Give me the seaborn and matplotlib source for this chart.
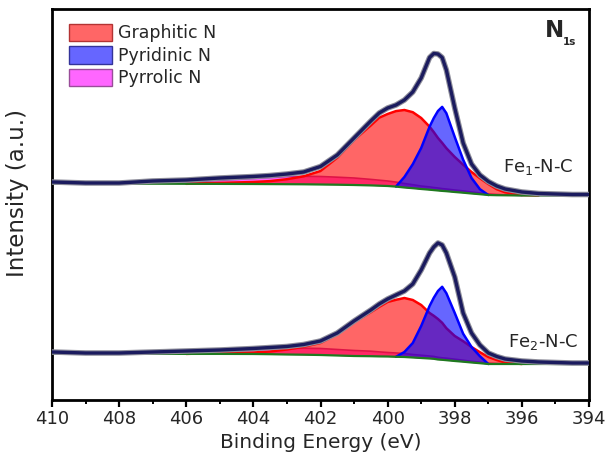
import numpy as np
import pandas as pd
import matplotlib
matplotlib.use("Agg")
import matplotlib.pyplot as plt
import seaborn as sns
from matplotlib.patches import Patch
from matplotlib.ticker import MultipleLocator

# ---------------- data ----------------
energy = [410, 409, 408, 407, 406, 405, 404, 403.5, 403, 402.5, 402, 401.5, 401,
          400.5, 400.25, 400, 399.75, 399.5, 399.25, 399, 398.75, 398.625, 398.5,
          398.375, 398.25, 398, 397.75, 397.5, 397.25, 397, 396.75, 396.5, 396,
          395.5, 395, 394.5, 394]

# Fe1-N-C (upper spectrum, absolute plotted intensity)
fe1_baseline = [216.5, 216.5, 216.4, 216.3, 216.2, 216.1, 216, 215.9, 215.8, 215.7, 215.5,
                215.3, 215, 214.6, 214.3, 214, 213.4, 212.5, 211.8, 211, 210.3, 209.9,
                209.5, 209.1, 208.8, 208, 207.3, 206.5, 205.8, 205, 204.8, 204.7, 204.5,
                204.5, 204.5, 204.5, 204.5]
fe1_envelope = [218, 217, 217, 219, 220, 222, 223.5, 224.5, 226, 228, 233.5, 245, 262,
                279, 287, 292, 295, 300, 308, 322, 342.5, 346.5, 346, 342.5, 330, 292,
                257, 236, 225, 218.5, 214, 211, 208, 206.5, 206, 205.5, 205.5]
# component heights above the baseline
fe1_graphitic = [0, 0, 0, 0, 0, 1, 2, 3, 5, 8, 13.5, 27, 45, 60, 68, 72, 75.5, 77.5, 76,
                 71, 63, 58, 52.5, 48, 43, 35, 28, 21.5, 16, 11, 6, 3, 0.5, 0, 0, 0, 0]
fe1_pyridinic = [0, 0, 0, 0, 0, 0, 0, 0, 0, 0, 0, 0, 0, 0, 0, 0, 0, 10.5, 24, 41, 63, 72,
                 79.5, 84, 78, 55, 33, 15.5, 5, 0, 0, 0, 0, 0, 0, 0, 0]
fe1_pyrrolic = [0, 0, 0, 0.5, 1.5, 3.5, 5.5, 6.5, 7.5, 8, 8, 7.5, 7, 6, 5.5, 5, 4.5, 4,
                3.5, 3, 2.8, 2.6, 2.5, 2.3, 2.2, 2, 1.8, 1.5, 1.2, 1, 0.7, 0.5, 0, 0, 0, 0, 0]

# Fe2-N-C (lower spectrum)
fe2_baseline = [46.5, 46.4, 46.3, 46.2, 46.1, 46.1, 46, 45.8, 45.5, 45.3, 45, 44.5, 44,
                43.8, 43.6, 43.5, 43.2, 43, 42.5, 42, 41.5, 41.2, 40.5, 40.2, 39.8, 39,
                38.3, 37.5, 36.8, 36, 36, 36, 36, 36, 36, 36, 36]
fe2_envelope = [48, 47, 47, 48, 49, 50, 51.5, 52.5, 53.5, 55.5, 59, 67, 79, 90, 96, 101,
                105, 109, 116, 130, 147, 153, 157, 155, 147, 123, 87, 67, 55, 47, 43.5,
                41, 39, 38, 37.5, 37, 37]
fe2_graphitic = [0, 0, 0, 0, 0, 1, 1.5, 2.7, 5, 8, 12, 21.5, 34, 44, 49.5, 54.5, 57, 59,
                 57.5, 53, 45.5, 43, 40.5, 37, 32, 25, 20.5, 15.5, 11, 7, 4, 1.5, 0, 0, 0, 0, 0]
fe2_pyridinic = [0, 0, 0, 0, 0, 0, 0, 0, 0, 0, 0, 0, 0, 0, 0, 0, 0, 5, 14.5, 32, 52.5, 61,
                 68.5, 73, 67, 48, 28, 15.5, 7, 0, 0, 0, 0, 0, 0, 0, 0]
fe2_pyrrolic = [0, 0, 0, 0.5, 1.5, 3, 4.5, 5.5, 6, 6.5, 6.5, 6, 5.5, 5, 4.5, 4, 3.8, 3.5,
                3, 2.8, 2.5, 2.4, 2.2, 2, 2, 1.8, 1.5, 1.2, 1, 0.8, 0.5, 0.3, 0, 0, 0, 0, 0]

sample_labels = ["Fe$_1$-N-C", "Fe$_2$-N-C"]
component_names = ["Graphitic N", "Pyridinic N", "Pyrrolic N"]
x_ticks = [410, 408, 406, 404, 402, 400, 398, 396, 394]

# ---------------- style ----------------
sns.set_theme(style="white")
plt.rcParams['font.family'] = ['DejaVu Sans']
plt.rcParams['mathtext.default'] = 'regular'

W, H = 610, 467
fig = plt.figure(figsize=(W / 100, H / 100), dpi=100)
ax = fig.add_axes([52 / W, 1 - 400 / H, 537 / W, 391 / H])

E = np.array(energy, dtype=float)

red_fill = (1, 0, 0, 0.6)
blue_fill = (0, 0, 1, 0.6)
mag_fill = (1, 0, 1, 0.6)


def comp_line(base, height):
    h = np.array(height, dtype=float)
    m = h > 0
    m = m | np.roll(m, 1) | np.roll(m, -1)
    y = np.where(m, base + h, np.nan)
    return y


samples = [
    (fe1_baseline, fe1_envelope, fe1_graphitic, fe1_pyridinic, fe1_pyrrolic),
    (fe2_baseline, fe2_envelope, fe2_graphitic, fe2_pyridinic, fe2_pyrrolic),
]

for base_l, env_l, gr_l, py_l, pr_l in samples:
    b = np.array(base_l, dtype=float)
    pr = b + np.array(pr_l)
    gr = b + np.array(gr_l)
    py = b + np.array(py_l)
    ax.fill_between(E, b, pr, color=mag_fill, lw=0, zorder=1)
    sns.lineplot(x=E, y=comp_line(b, pr_l), color='#b030b0', lw=1.2, ax=ax, zorder=2)
    ax.fill_between(E, b, gr, color=red_fill, lw=0, zorder=3)
    sns.lineplot(x=E, y=comp_line(b, gr_l), color='#ff0000', lw=1.8, ax=ax, zorder=4)
    ax.fill_between(E, b, py, color=blue_fill, lw=0, zorder=5)
    sns.lineplot(x=E, y=comp_line(b, py_l), color='#0000ff', lw=1.8, ax=ax, zorder=6)
    sns.lineplot(x=E, y=b, color='#1f7a1f', lw=1.6, ax=ax, zorder=7)
    sns.lineplot(x=E, y=env_l, color='#8c8c99', lw=4.0, ax=ax, zorder=8)
    sns.lineplot(x=E, y=env_l, color='#1b1b5e', lw=2.4, ax=ax, zorder=9)

ax.set_xlim(410, 394)
ax.set_ylim(0, 391)
ax.set_yticks([])
ax.set_xticks(x_ticks)
ax.set_xticklabels([str(t) for t in x_ticks])
ax.xaxis.set_minor_locator(MultipleLocator(1))
ax.tick_params(axis='x', which='major', direction='out', length=5, width=1.6,
               labelsize=13, pad=2, bottom=True, color='black')
ax.tick_params(axis='x', which='minor', direction='out', length=3, width=1.4,
               bottom=True, color='black')
for s in ax.spines.values():
    s.set_color('black')
    s.set_linewidth(2)

ax.set_xlabel("Binding Energy (eV)", fontsize=14.5)
ax.xaxis.set_label_coords(0.5, -(433 - 400) / 391)
ax.set_ylabel("Intensity (a.u.)", fontsize=16.5)
ax.yaxis.set_label_coords(-(52 - 29) / 537, 0.53)

handles = [Patch(facecolor=red_fill, edgecolor=(0.7, 0.2, 0.2), lw=1),
           Patch(facecolor=blue_fill, edgecolor=(0.2, 0.2, 0.6), lw=1),
           Patch(facecolor=mag_fill, edgecolor=(0.6, 0.3, 0.6), lw=1)]
fig.legend(handles, component_names, loc='upper left',
           bbox_to_anchor=(69 / W, 1 - 24 / H), frameon=False, fontsize=12.5,
           handlelength=2.5, handleheight=1.15, handletextpad=0.3,
           labelspacing=0.23, borderpad=0, borderaxespad=0)

fig.text(545 / W, 1 - 37 / H, "N", fontsize=16.5, fontweight='bold', va='baseline')
fig.text(563 / W, 1 - 45 / H, "1s", fontsize=7.5, fontweight='bold', va='baseline')

fig.text(503 / W, 1 - 172 / H, sample_labels[0], fontsize=13, va='baseline')
fig.text(508 / W, 1 - 347 / H, sample_labels[1], fontsize=13, va='baseline')

fig.savefig("out.png", dpi=100)
